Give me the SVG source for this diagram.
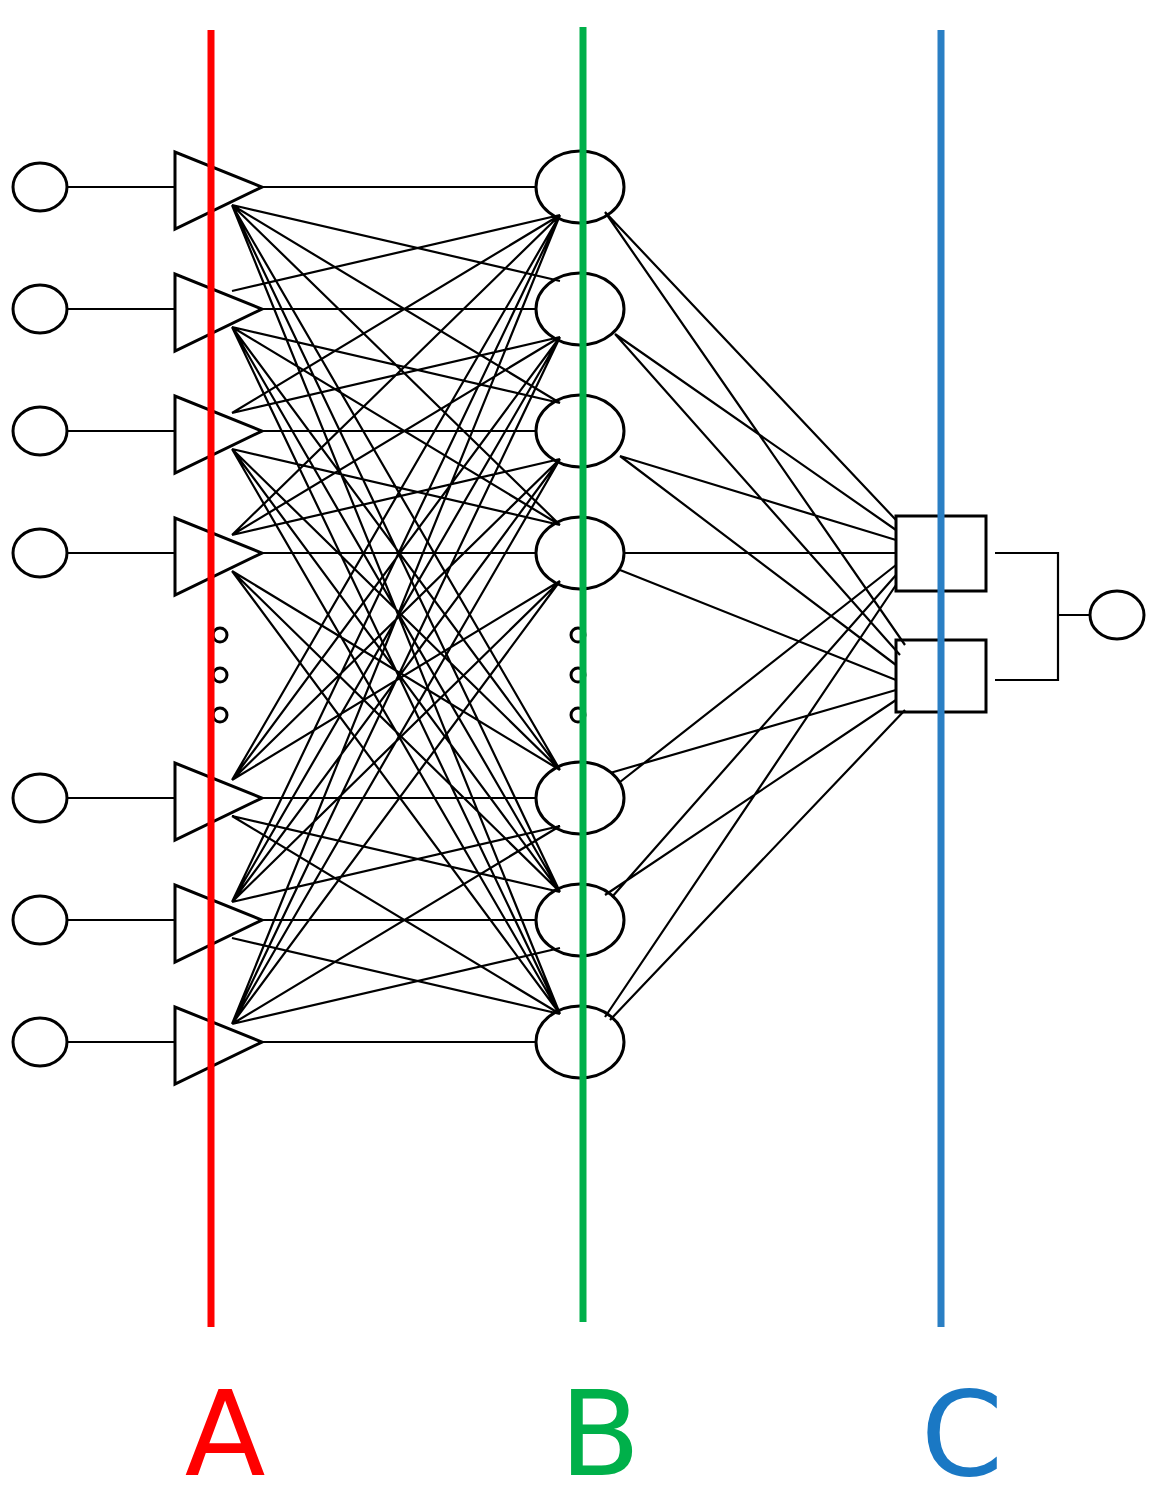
<svg xmlns="http://www.w3.org/2000/svg" width="1159" height="1505" viewBox="0 0 1159 1505">
<style>
.n{fill:none;stroke:#000;stroke-width:3}
.c{fill:none;stroke:#000;stroke-width:2.2}
.lbl{font-family:"DejaVu Sans",sans-serif;font-size:118px;text-anchor:middle}
</style>
<rect width="1159" height="1505" fill="#fff"/>
<g id="connectors" class="c">
<path d="M67,187H175M67,309H175M67,431H175M67,553H175M67,798H175M67,920H175M67,1042H175"/>
<path d="M262,187H536M262,309H536M262,431H536M262,553H536M262,798H536M262,920H536M262,1042H536"/>
<path d="M232,205L560,281M232,205L560,403M232,205L560,525M232,205L560,770M232,205L560,892M232,205L560,1014
M232,327L560,403M232,327L560,525M232,327L560,770M232,327L560,892M232,327L560,1014
M232,449L560,525M232,449L560,770M232,449L560,892M232,449L560,1014
M232,571L560,770M232,571L560,892M232,571L560,1014
M232,816L560,892M232,816L560,1014
M232,938L560,1014"/>
<path d="M232,291L560,215
M232,413L560,215M232,413L560,337
M232,535L560,215M232,535L560,337M232,535L560,459
M232,780L560,215M232,780L560,337M232,780L560,459M232,780L560,581
M232,902L560,215M232,902L560,337M232,902L560,459M232,902L560,581M232,902L560,826
M232,1024L560,215M232,1024L560,337M232,1024L560,459M232,1024L560,581M232,1024L560,826M232,1024L560,948"/>
<path d="M605,212L896,520M605,212L905,645
M615,334L896,530M615,334L900,655
M620,456L896,540M620,456L896,665
M624,553H896M620,570L896,680
M620,782L896,565M610,773L896,690
M612,897L896,575M605,895L896,700
M605,1017L896,585M610,1020L905,710"/>
<path d="M995,553H1058V680H995M1058,615H1090"/>
</g>
<g id="inputs" class="n">
<ellipse cx="40" cy="187" rx="27" ry="24"/><ellipse cx="40" cy="309" rx="27" ry="24"/><ellipse cx="40" cy="431" rx="27" ry="24"/><ellipse cx="40" cy="553" rx="27" ry="24"/><ellipse cx="40" cy="798" rx="27" ry="24"/><ellipse cx="40" cy="920" rx="27" ry="24"/><ellipse cx="40" cy="1042" rx="27" ry="24"/>
</g>
<g id="triangles" class="n">
<path d="M175,152V229L262,187Z"/><path d="M175,274V351L262,309Z"/><path d="M175,396V473L262,431Z"/><path d="M175,518V595L262,553Z"/><path d="M175,763V840L262,798Z"/><path d="M175,885V962L262,920Z"/><path d="M175,1007V1084L262,1042Z"/>
<circle cx="220" cy="635" r="7"/><circle cx="220" cy="675" r="7"/><circle cx="220" cy="715" r="7"/>
</g>
<g id="hidden" class="n">
<ellipse cx="580" cy="187" rx="44" ry="36"/><ellipse cx="580" cy="309" rx="44" ry="36"/><ellipse cx="580" cy="431" rx="44" ry="36"/><ellipse cx="580" cy="553" rx="44" ry="36"/><ellipse cx="580" cy="798" rx="44" ry="36"/><ellipse cx="580" cy="920" rx="44" ry="36"/><ellipse cx="580" cy="1042" rx="44" ry="36"/>
<circle cx="578" cy="635" r="7"/><circle cx="578" cy="675" r="7"/><circle cx="578" cy="715" r="7"/>
</g>
<g id="boxes" class="n">
<rect x="896" y="516" width="90" height="75"/><rect x="896" y="640" width="90" height="72"/>
</g>
<g id="output" class="n"><ellipse cx="1117" cy="615" rx="27" ry="24"/></g>
<g id="layers">
<line x1="211" y1="30" x2="211" y2="1327" stroke="#f00" stroke-width="7"/>
<line x1="583" y1="27" x2="583" y2="1322" stroke="#00b04a" stroke-width="7"/>
<line x1="941" y1="30" x2="941" y2="1327" stroke="#2a7fc4" stroke-width="7"/>
<text class="lbl" x="225" y="1475" fill="#f00">A</text>
<text class="lbl" x="600" y="1475" fill="#00b04a">B</text>
<text class="lbl" x="962" y="1475" fill="#1a78c4">C</text>
</g>
</svg>
